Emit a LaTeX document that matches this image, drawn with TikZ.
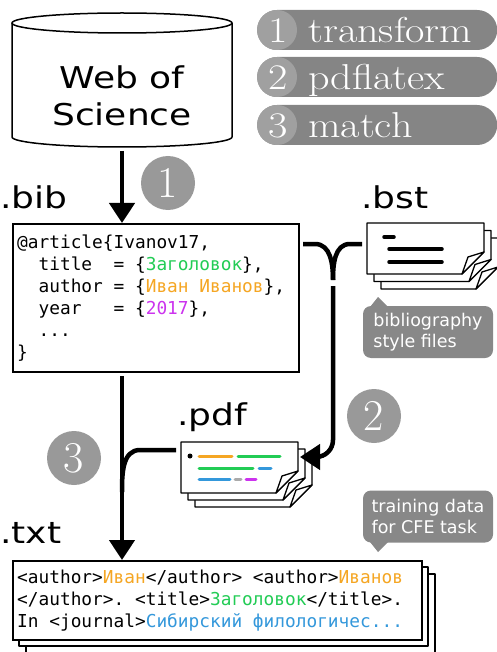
\documentclass[tikz,border=0pt]{standalone}
\usepackage{fontspec}
\usepackage{graphicx}
\usepackage{tikz}
\usetikzlibrary{arrows.meta, positioning}
\newfontfamily\labelfont[FakeStretch=1.2]{DejaVu Sans}
\newfontfamily\notefont{DejaVu Sans}
\newfontfamily\codefont{DejaVu Sans Mono}
\definecolor{fgreen}{HTML}{22CC55}
\definecolor{forange}{HTML}{F5A623}
\definecolor{fviolet}{HTML}{CC33EE}
\definecolor{fblue}{HTML}{3498DB}
\definecolor{fgrey}{HTML}{AAAAAA}
\definecolor{pillgray}{HTML}{858585}
\definecolor{numgray}{HTML}{A0A0A0}
\definecolor{stepgray}{HTML}{999999}
\definecolor{notegray}{HTML}{888888}
\newcommand{\cg}[1]{\textcolor{fgreen}{#1}}
\newcommand{\co}[1]{\textcolor{forange}{#1}}
\newcommand{\cv}[1]{\textcolor{fviolet}{#1}}
\newcommand{\cb}[1]{\textcolor{fblue}{#1}}
\newcommand{\ws}{\hphantom{0}}
\newcommand{\wide}[1]{\scalebox{1.17}[1]{#1}}
\tikzstyle{ext} = [font=\labelfont\fontsize{30}{30}\selectfont, inner sep=0pt, anchor=base west]
\tikzstyle{codebox} = [draw, line width=1.5pt, fill=white, anchor=north west, inner sep=0pt]
\tikzstyle{code} = [align=left, anchor=west, inner sep=0pt, font=\codefont\fontsize{17.8}{22}\selectfont]
\tikzstyle{stepnum} = [circle, fill=stepgray, text=white, minimum size=54pt, inner sep=0pt, font=\fontsize{44}{44}\selectfont]
\tikzstyle{pill} = [fill=pillgray, rounded corners=20pt, minimum width=240pt, minimum height=40pt, anchor=west, inner sep=0pt]
\tikzstyle{pillnum} = [circle, fill=numgray, minimum size=40pt, inner sep=0pt]
\tikzstyle{pilltext} = [text=white, inner sep=0pt, anchor=base west, font=\fontsize{36}{36}\selectfont]
\tikzstyle{note} = [fill=notegray, text=white, rounded corners=8pt, align=left, minimum width=130pt, minimum height=52pt, font=\notefont\fontsize{17.5}{20.5}\selectfont]
\tikzstyle{line} = [draw, line width=4.5pt]
\tikzstyle{arrow} = [line, -{Triangle[length=20pt,width=25pt]}]
\tikzstyle{page} = [draw, line width=1.3pt, fill=white, line join=round]
\tikzstyle{textline} = [draw, line width=3.5pt, line cap=round]
\tikzstyle{colorbar} = [draw, line width=3pt, line cap=round]
\tikzset{paper/.pic={
  \path[page] (0,0) -- (117,0) -- (117,29) -- (95,51) -- (0,51) -- cycle;
  \path[page] (117,29) -- (101,34) -- (95,51) -- cycle;
}}

\begin{document}
\begin{tikzpicture}[x=1pt, y=-1pt]
\useasboundingbox (0,0) rectangle (496,652);

% legend
\node [pill] (leg1) at (257,30) {};
\node [pill] (leg2) at (257,77) {};
\node [pill] (leg3) at (257,125) {};
\node [pillnum] (leg1n) at (277,30) {};
\node [pillnum] (leg2n) at (277,77) {};
\node [pillnum] (leg3n) at (277,125) {};
\node [pilltext] at (268,43) {\wide{1}};
\node [pilltext] at (268,90) {\wide{2}};
\node [pilltext] at (268,138) {\wide{3}};
\node [pilltext] at (308,43) {\wide{transform}};
\node [pilltext] at (308,90) {\wide{pdflatex}};
\node [pilltext] at (308,138) {\wide{match}};

% database
\draw [line width=1.5pt, fill=white] (12,23) -- (12,137)
  arc [start angle=180, end angle=360, x radius=110pt, y radius=10pt] -- (232,23);
\draw [line width=1.5pt] (122,23) ellipse [x radius=110pt, y radius=10pt];
\node [font=\labelfont\fontsize{30}{37}\selectfont, align=center] (wos) at (122,96) {Web of\\Science};
\coordinate (wosout) at (122,151);

% file types
\node [ext] (bibl) at (0,208) {.bib};
\node [ext] (bstl) at (361,208) {.bst};
\node [ext] (pdfl) at (177,425) {.pdf};
\node [ext] (txtl) at (0,543) {.txt};

% bib entry
\node [codebox, minimum width=286pt, minimum height=148pt] (bib) at (12,223) {};
\node [code] (bibtext) at ([xshift=5pt]bib.west) {@article\{Ivanov17,\\
\ws\ws title\ws\ws=\ws\{\cg{Заголовок}\},\\
\ws\ws author\ws=\ws\{\co{Иван\ws Иванов}\},\\
\ws\ws year\ws\ws\ws=\ws\{\cv{2017}\},\\
\ws\ws ...\\
\}};

% bst files
\pic at (381,238) {paper};
\pic at (374,230.5) {paper};
\pic at (367,223) {paper};
\path [textline] (384,237) -- (394,237);
\path [textline] (389,249) -- (442,249);
\path [textline] (389,262) -- (442,262);

% pdf files
\pic at (195,456) {paper};
\pic at (188,449) {paper};
\pic at (181,442) {paper};
\fill (190,456) circle [radius=2.5pt];
\path [colorbar, forange] (199,456) -- (232,456);
\path [colorbar, fgreen] (238,456) -- (280,456);
\path [colorbar, fgreen] (199,468) -- (253,468);
\path [colorbar, fblue] (259,468) -- (271,468);
\path [colorbar, fblue] (199,479) -- (230,479);
\path [colorbar, fgrey] (235,479) -- (241,479);
\path [colorbar, fviolet] (246,479) -- (256,479);

% txt files
\path [page] (26,574) rectangle (435,653);
\path [page] (19,567) rectangle (428,646);
\node [codebox, minimum width=409pt, minimum height=79pt] (txt) at (12,560) {};
\node [code] (txttext) at ([xshift=5pt]txt.west) {<author>\co{Иван}</author>\ws<author>\co{Иванов}\\
</author>.\ws<title>\cg{Заголовок}</title>.\\
In\ws<journal>\cb{Сибирский\ws филологичес...}};

% notes
\node [note] (bstnote) at (428,332) {bibliography\\style files};
\fill [notegray] (370,307) -- (378,297) -- (388,307) -- cycle;
\node [note] (cfenote) at (428,516.5) {training data\\for CFE task};
\fill [notegray] (370,542) -- (378,552) -- (388,542) -- cycle;

% steps
\node [stepnum] (s1) at (168,183) {1};
\node [stepnum] (s2) at (374,416) {2};
\node [stepnum] (s3) at (74,458) {3};

% connectors
\coordinate (bibout) at (303,244);
\coordinate (bstin) at (362,244);
\coordinate (merge) at (333,280);
\coordinate (pdfin) at (300,457);
\coordinate (pdfout) at (176,450);
\coordinate (bibdown) at (122,376);
\coordinate (join) at (122,492);

\path [arrow] (wosout) -- (wosout |- bib.north);
\path [line] (bibout) -- ++(12,0) to [out=0, in=90] (merge);
\path [line] (bstin) -- ++(-12,0) to [out=180, in=90] (merge);
\path [arrow] ([yshift=-6pt]merge) -- (333,440) to [out=270, in=0] (316,457) -- (pdfin);
\path [arrow] (bibdown) -- (bibdown |- txt.north);
\path [line] (pdfout) -- ++(-36,0) to [out=180, in=90] (join);
\end{tikzpicture}
\end{document}
